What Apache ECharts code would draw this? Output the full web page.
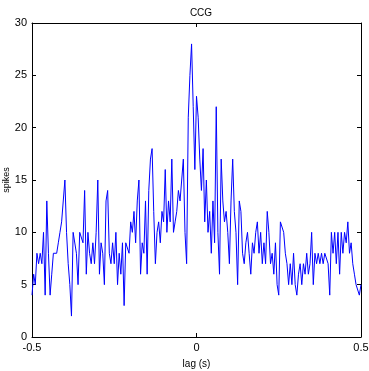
<!DOCTYPE html>
<html>
<head>
<meta charset="utf-8">
<script src="https://cdn.jsdelivr.net/npm/echarts@6/dist/echarts.min.js"></script>
<style>
  html, body { margin: 0; padding: 0; background: #fff; }
  #chart { width: 369px; height: 371px; }
</style>
</head>
<body>
<div id="chart"></div>
<script>
// lag bins: -0.5 .. 0.5 s, step 0.005 s
const lagStart = -0.5
const lagStep = 0.005

// spike counts per bin
const spikesA = [4, 6, 5, 8, 7, 8, 7, 10, 4, 13, 8, 4, 6, 8, 8, 8, 9, 10, 11, 11,
  15, 10, 7, 5, 2, 10, 10, 8, 5, 10, 10, 9, 14, 6, 10, 8, 7, 9, 7, 10, 15]
const spikesB = [6, 9, 8, 5, 13, 14, 8, 7, 9, 7, 10, 5, 8, 6, 9, 3, 9, 9, 8, 11,
  10, 12, 9, 13, 15, 6, 9, 8, 13, 6, 14, 17, 18, 12, 7, 10, 11, 9, 12, 11]
const spikesC = [16, 10, 13, 11, 17, 10, 11, 12, 14, 13, 15, 17, 10, 7, 21, 25, 28, 22, 16, 23,
  21, 17, 14, 18, 11, 15, 10, 12, 8, 13, 9, 22, 10, 6, 17, 13, 11, 12, 10, 7]
const spikesD = [13, 17, 12, 10, 5, 13, 12, 8, 7, 9, 10, 8, 6, 9, 8, 10, 11, 8, 10, 7,
  9, 7, 12, 10, 7, 8, 6, 9, 5, 4, 11, 11, 10, 8, 7, 5, 7, 5, 8, 5]
const spikesE = [4, 6, 7, 5, 7, 6, 8, 6, 7, 10, 5, 8, 7, 8, 7, 8, 7, 8, 8, 7,
  4, 10, 8, 10, 7, 10, 6, 10, 8, 10, 9, 11, 8, 9, 7, 6, 5, 5, 4, 5]

const spikes = [].concat(spikesA, spikesB, spikesC, spikesD, spikesE)
const points = spikes.map((v, i) => [+(lagStart + i * lagStep).toFixed(3), v])

const xTicks = [-0.5, 0, 0.5]
const yTicks = [0, 5, 10, 15, 20, 25, 30]

const font = 'Liberation Sans, Arial, sans-serif'
const black = '#000'

const chart = echarts.init(document.getElementById('chart'), null, { renderer: 'canvas' })

function boxAxis(extra) {
  return Object.assign({
    axisLine: { show: true, onZero: false, lineStyle: { color: black, width: 1 } },
    axisTick: { show: true, inside: true, length: 4, lineStyle: { color: black } },
    splitLine: { show: false },
    axisLabel: { show: false }
  }, extra)
}

chart.setOption({
  animation: false,
  backgroundColor: '#fff',
  title: {
    text: 'CCG',
    left: 196, top: 3,
    textAlign: 'center',
    textStyle: { fontFamily: font, fontSize: 10, fontWeight: 'normal', color: black }
  },
  grid: { left: 32, right: 8, top: 23, bottom: 34, containLabel: false, outerBoundsMode: 'none' },
  xAxis: [
    boxAxis({
      type: 'value',
      min: xTicks[0], max: xTicks[xTicks.length - 1], interval: 0.5,
      position: 'bottom',
      name: 'lag (s)',
      nameLocation: 'middle',
      nameGap: 22,
      nameMoveOverlap: false,
      nameTextStyle: { fontFamily: font, fontSize: 10, color: black },
      axisLabel: {
        show: true, margin: 5, color: black, fontFamily: font, fontSize: 11,
        formatter: (v) => String(v)
      }
    }),
    boxAxis({ type: 'value', min: -0.5, max: 0.5, interval: 0.5, position: 'top' })
  ],
  yAxis: [
    boxAxis({
      type: 'value',
      min: yTicks[0], max: yTicks[yTicks.length - 1], interval: 5,
      position: 'left',
      name: 'spikes',
      nameLocation: 'middle',
      nameGap: 21,
      nameMoveOverlap: false,
      nameTextStyle: { fontFamily: font, fontSize: 9, color: black },
      axisLabel: { show: true, margin: 5, color: black, fontFamily: font, fontSize: 11 }
    }),
    boxAxis({ type: 'value', min: 0, max: 30, interval: 5, position: 'right' })
  ],
  series: [{
    type: 'line',
    data: points,
    xAxisIndex: 0,
    yAxisIndex: 0,
    showSymbol: false,
    lineStyle: { color: '#0000ff', width: 1 },
    itemStyle: { color: '#0000ff' }
  }]
})
</script>
</body>
</html>
